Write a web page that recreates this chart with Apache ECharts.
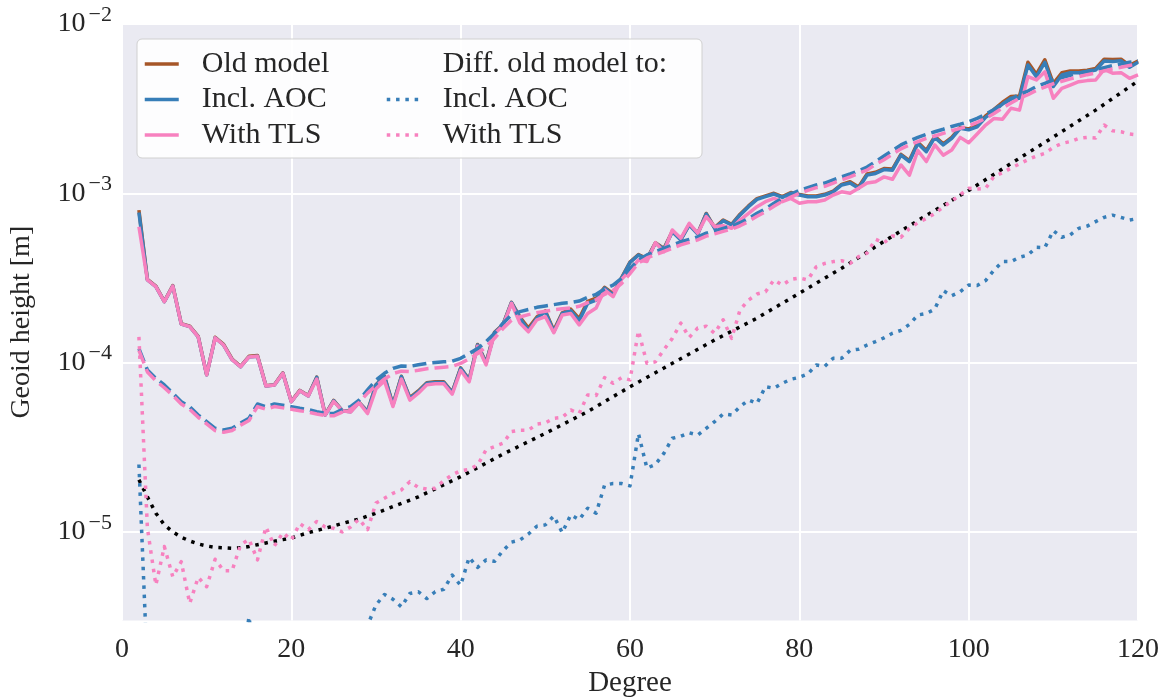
<!DOCTYPE html>
<html><head><meta charset="utf-8">
<script src="https://cdn.jsdelivr.net/npm/echarts@6/dist/echarts.min.js"></script>
<style>html,body{margin:0;padding:0;background:#fff}#c{width:1168px;height:700px}</style>
</head><body><div id="c"></div>
<script>
// Spherical-harmonic degrees 2..120
const degrees = Array.from({length: 119}, (_, i) => i + 2);

const oldModel = [7.95e-4, 3.1e-4, 2.83e-4, 2.3e-4, 2.85e-4, 1.7e-4, 1.64e-4, 1.43e-4, 8.5e-5, 1.41e-4,
 1.28e-4, 1.05e-4, 9.5e-5, 1.09e-4, 1.1e-4, 7.3e-5, 7.4e-5, 8.7e-5, 5.9e-5, 6.85e-5,
 6.4e-5, 8.2e-5, 4.92e-5, 5.98e-5, 5.22e-5, 5.15e-5, 5.82e-5, 5.15e-5, 7.4e-5, 8.3e-5,
 5.65e-5, 8.3e-5, 6.2e-5, 6.8e-5, 7.6e-5, 7.7e-5, 7.7e-5, 6.7e-5, 9.3e-5, 7.95e-5,
 1.28e-4, 1.0e-4, 1.51e-4, 1.68e-4, 2.27e-4, 1.86e-4, 1.6e-4, 1.86e-4, 2.02e-4, 1.55e-4,
 1.97e-4, 2.07e-4, 1.82e-4, 2.3e-4, 2.4e-4, 2.78e-4, 2.55e-4, 3.17e-4, 3.92e-4, 4.35e-4,
 4.12e-4, 5.1e-4, 4.72e-4, 5.96e-4, 5.35e-4, 6.55e-4, 5.8e-4, 7.6e-4, 6.27e-4, 6.95e-4,
 6.56e-4, 7.52e-4, 8.42e-4, 9.3e-4, 9.65e-4, 1.0e-3, 9.55e-4, 1.01e-3, 9.85e-4, 9.63e-4,
 9.64e-4, 9.86e-4, 1.03e-3, 1.13e-3, 1.17e-3, 1.09e-3, 1.3e-3, 1.33e-3, 1.4e-3, 1.39e-3,
 1.7e-3, 1.56e-3, 2.0e-3, 1.79e-3, 2.17e-3, 1.96e-3, 2.14e-3, 2.45e-3, 2.4e-3, 2.51e-3,
 2.87e-3, 3.13e-3, 3.45e-3, 3.73e-3, 3.75e-3, 5.95e-3, 5.05e-3, 6.15e-3, 4.45e-3, 5.15e-3,
 5.28e-3, 5.27e-3, 5.33e-3, 5.46e-3, 6.2e-3, 6.18e-3, 6.2e-3, 5.7e-3, 6.05e-3];

const inclAOC = [7.7e-4, 3.08e-4, 2.81e-4, 2.29e-4, 2.83e-4, 1.69e-4, 1.63e-4, 1.42e-4, 8.45e-5, 1.40e-4,
 1.27e-4, 1.04e-4, 9.45e-5, 1.08e-4, 1.09e-4, 7.28e-5, 7.38e-5, 8.65e-5, 5.87e-5, 6.82e-5,
 6.35e-5, 8.18e-5, 4.90e-5, 5.95e-5, 5.20e-5, 5.13e-5, 5.80e-5, 5.13e-5, 7.38e-5, 8.26e-5,
 5.62e-5, 8.26e-5, 6.15e-5, 6.73e-5, 7.55e-5, 7.64e-5, 7.64e-5, 6.64e-5, 9.25e-5, 7.89e-5,
 1.27e-4, 9.91e-5, 1.50e-4, 1.67e-4, 2.26e-4, 1.83e-4, 1.55e-4, 1.83e-4, 2.00e-4, 1.52e-4,
 1.95e-4, 2.03e-4, 1.77e-4, 2.24e-4, 2.34e-4, 2.75e-4, 2.51e-4, 3.15e-4, 3.9e-4, 4.32e-4,
 4.08e-4, 5.07e-4, 4.67e-4, 5.93e-4, 5.30e-4, 6.50e-4, 5.75e-4, 7.55e-4, 6.21e-4, 6.89e-4,
 6.50e-4, 7.45e-4, 8.34e-4, 9.21e-4, 9.55e-4, 9.90e-4, 9.46e-4, 1.00e-3, 9.77e-4, 9.55e-4,
 9.55e-4, 9.77e-4, 1.02e-3, 1.12e-3, 1.15e-3, 1.07e-3, 1.28e-3, 1.31e-3, 1.38e-3, 1.37e-3,
 1.68e-3, 1.54e-3, 1.97e-3, 1.76e-3, 2.14e-3, 1.93e-3, 2.11e-3, 2.42e-3, 2.37e-3, 2.47e-3,
 2.81e-3, 3.06e-3, 3.37e-3, 3.64e-3, 3.64e-3, 5.73e-3, 4.89e-3, 5.94e-3, 4.27e-3, 5.00e-3,
 5.16e-3, 5.16e-3, 5.22e-3, 5.35e-3, 6.04e-3, 6.00e-3, 6.06e-3, 5.55e-3, 5.94e-3];

const withTLS = [6.35e-4, 3.08e-4, 2.81e-4, 2.29e-4, 2.83e-4, 1.69e-4, 1.63e-4, 1.42e-4, 8.45e-5, 1.40e-4,
 1.27e-4, 1.04e-4, 9.45e-5, 1.08e-4, 1.09e-4, 7.28e-5, 7.38e-5, 8.65e-5, 5.87e-5, 6.82e-5,
 6.35e-5, 8.0e-5, 4.9e-5, 5.9e-5, 5.2e-5, 5.1e-5, 5.8e-5, 5.0e-5, 7.0e-5, 7.8e-5,
 5.5e-5, 8.0e-5, 6.0e-5, 6.6e-5, 7.4e-5, 7.5e-5, 7.5e-5, 6.5e-5, 9.0e-5, 7.7e-5,
 1.25e-4, 9.7e-5, 1.48e-4, 1.65e-4, 2.24e-4, 1.71e-4, 1.52e-4, 1.79e-4, 1.87e-4, 1.50e-4,
 1.91e-4, 1.95e-4, 1.67e-4, 1.95e-4, 2.10e-4, 2.69e-4, 2.45e-4, 3.1e-4, 3.5e-4, 4.04e-4,
 3.95e-4, 5.11e-4, 4.52e-4, 6.07e-4, 5.42e-4, 6.65e-4, 5.81e-4, 7.28e-4, 6.35e-4, 6.44e-4,
 6.21e-4, 6.95e-4, 7.62e-4, 8.34e-4, 8.92e-4, 9.33e-4, 8.92e-4, 9.33e-4, 8.73e-4, 8.92e-4,
 8.92e-4, 9.12e-4, 9.77e-4, 1.02e-3, 1.00e-3, 1.07e-3, 1.15e-3, 1.17e-3, 1.25e-3, 1.21e-3,
 1.47e-3, 1.28e-3, 1.79e-3, 1.54e-3, 1.93e-3, 1.68e-3, 1.80e-3, 2.14e-3, 1.99e-3, 2.24e-3,
 2.53e-3, 2.77e-3, 2.74e-3, 3.18e-3, 3.10e-3, 4.89e-3, 4.67e-3, 5.22e-3, 3.64e-3, 4.17e-3,
 4.36e-3, 4.56e-3, 4.63e-3, 4.67e-3, 5.39e-3, 5.12e-3, 5.16e-3, 4.78e-3, 5.00e-3];

const aocDashed = [1.21e-4, 9.04e-5, 8.07e-5, 7.38e-5, 6.59e-5, 5.87e-5, 5.49e-5, 4.90e-5, 4.48e-5, 4.09e-5,
 4.00e-5, 4.09e-5, 4.39e-5, 4.69e-5, 5.69e-5, 5.49e-5, 5.69e-5, 5.6e-5, 5.49e-5, 5.37e-5,
 5.27e-5, 5.13e-5, 5.01e-5, 5.0e-5, 5.27e-5, 5.49e-5, 6.01e-5, 6.89e-5, 7.88e-5, 8.65e-5,
 9.25e-5, 9.55e-5, 9.5e-5, 9.7e-5, 9.9e-5, 1.0e-4, 1.01e-4, 1.02e-4, 1.06e-4, 1.13e-4,
 1.21e-4, 1.33e-4, 1.49e-4, 1.71e-4, 1.91e-4, 2.00e-4, 2.06e-4, 2.12e-4, 2.16e-4, 2.20e-4,
 2.24e-4, 2.26e-4, 2.31e-4, 2.43e-4, 2.53e-4, 2.72e-4, 2.87e-4, 3.15e-4, 3.6e-4, 4.04e-4,
 4.32e-4, 4.52e-4, 4.72e-4, 4.94e-4, 5.17e-4, 5.34e-4, 5.53e-4, 5.81e-4, 6.0e-4, 6.21e-4,
 6.4e-4, 6.7e-4, 7.1e-4, 7.62e-4, 8.1e-4, 8.73e-4, 9.33e-4, 9.9e-4, 1.04e-3, 1.08e-3,
 1.12e-3, 1.15e-3, 1.2e-3, 1.25e-3, 1.30e-3, 1.36e-3, 1.43e-3, 1.54e-3, 1.66e-3, 1.79e-3,
 1.93e-3, 2.04e-3, 2.14e-3, 2.23e-3, 2.31e-3, 2.39e-3, 2.48e-3, 2.56e-3, 2.65e-3, 2.77e-3,
 2.93e-3, 3.13e-3, 3.37e-3, 3.60e-3, 3.84e-3, 4.02e-3, 4.27e-3, 4.46e-3, 4.67e-3, 4.82e-3,
 4.98e-3, 5.12e-3, 5.26e-3, 5.37e-3, 5.52e-3, 5.68e-3, 5.80e-3, 5.94e-3, 6.07e-3];

const tlsDashed = [1.18e-4, 8.8e-5, 7.8e-5, 7.1e-5, 6.4e-5, 5.7e-5, 5.3e-5, 4.75e-5, 4.35e-5, 3.97e-5,
 3.88e-5, 3.97e-5, 4.26e-5, 4.55e-5, 5.5e-5, 5.3e-5, 5.5e-5, 5.4e-5, 5.3e-5, 5.2e-5,
 5.1e-5, 4.97e-5, 4.86e-5, 4.85e-5, 5.1e-5, 5.3e-5, 5.8e-5, 6.6e-5, 7.3e-5, 8.0e-5,
 8.6e-5, 8.9e-5, 8.85e-5, 9.0e-5, 9.2e-5, 9.3e-5, 9.4e-5, 9.5e-5, 9.9e-5, 1.05e-4,
 1.13e-4, 1.24e-4, 1.39e-4, 1.59e-4, 1.78e-4, 1.86e-4, 1.92e-4, 1.97e-4, 2.01e-4, 2.05e-4,
 2.08e-4, 2.10e-4, 2.15e-4, 2.26e-4, 2.35e-4, 2.53e-4, 2.67e-4, 2.93e-4, 3.35e-4, 3.88e-4,
 4.15e-4, 4.34e-4, 4.53e-4, 4.74e-4, 4.96e-4, 5.13e-4, 5.31e-4, 5.58e-4, 5.76e-4, 5.96e-4,
 6.14e-4, 6.43e-4, 6.82e-4, 7.32e-4, 7.78e-4, 8.38e-4, 8.96e-4, 9.5e-4, 9.98e-4, 1.04e-3,
 1.08e-3, 1.10e-3, 1.15e-3, 1.20e-3, 1.25e-3, 1.31e-3, 1.37e-3, 1.48e-3, 1.58e-3, 1.70e-3,
 1.83e-3, 1.93e-3, 2.02e-3, 2.11e-3, 2.18e-3, 2.26e-3, 2.34e-3, 2.42e-3, 2.50e-3, 2.62e-3,
 2.77e-3, 2.96e-3, 3.19e-3, 3.41e-3, 3.64e-3, 3.82e-3, 4.06e-3, 4.24e-3, 4.44e-3, 4.59e-3,
 4.74e-3, 4.88e-3, 5.02e-3, 5.13e-3, 5.28e-3, 5.43e-3, 5.55e-3, 5.69e-3, 5.83e-3];

const diffAOC = [2.5e-5, 1.5e-6, 1.2e-6, 1.0e-6, 1.1e-6, 9e-7, 1.0e-6, 1.2e-6, 1.0e-6, 1.3e-6,
 1.1e-6, 1.2e-6, 1.4e-6, 3.15e-6, 1.3e-6, 1.2e-6, 1.5e-6, 1.3e-6, 1.6e-6, 1.4e-6,
 1.7e-6, 1.5e-6, 1.8e-6, 1.6e-6, 1.9e-6, 1.8e-6, 2.0e-6, 2.8e-6, 3.7e-6, 4.27e-6,
 4.0e-6, 3.61e-6, 4.33e-6, 4.43e-6, 4.04e-6, 4.43e-6, 4.58e-6, 5.56e-6, 4.83e-6, 7.07e-6,
 6.17e-6, 6.83e-6, 6.7e-6, 7.75e-6, 8.7e-6, 8.95e-6, 9.72e-6, 1.08e-5, 1.10e-5, 1.24e-5,
 9.9e-6, 1.26e-5, 1.18e-5, 1.38e-5, 1.29e-5, 1.89e-5, 1.93e-5, 1.93e-5, 1.87e-5, 3.8e-5,
 2.38e-5, 2.5e-5, 2.91e-5, 3.57e-5, 3.67e-5, 3.85e-5, 3.73e-5, 4.09e-5, 4.48e-5, 4.97e-5,
 4.9e-5, 5.49e-5, 6.01e-5, 5.74e-5, 7.21e-5, 7.05e-5, 7.55e-5, 7.97e-5, 8.18e-5, 8.57e-5,
 9.69e-5, 9.5e-5, 1.06e-4, 1.06e-4, 1.18e-4, 1.20e-4, 1.27e-4, 1.33e-4, 1.40e-4, 1.49e-4,
 1.55e-4, 1.68e-4, 1.91e-4, 1.95e-4, 2.07e-4, 2.66e-4, 2.48e-4, 2.62e-4, 2.87e-4, 2.85e-4,
 3.05e-4, 3.52e-4, 3.95e-4, 3.95e-4, 4.19e-4, 4.32e-4, 4.80e-4, 4.78e-4, 6.01e-4, 5.5e-4,
 5.68e-4, 6.21e-4, 6.4e-4, 6.8e-4, 7.21e-4, 7.43e-4, 7.2e-4, 6.95e-4, 7.1e-4];

const diffTLS = [1.42e-4, 1.05e-5, 4.85e-6, 8.19e-6, 5.43e-6, 6.67e-6, 3.78e-6, 5.39e-6, 4.74e-6, 6.89e-6,
 5.90e-6, 5.90e-6, 8.38e-6, 9.04e-6, 6.83e-6, 1.07e-5, 8.26e-6, 9.89e-6, 8.95e-6, 1.12e-5,
 1.03e-5, 1.15e-5, 1.07e-5, 1.05e-5, 1.00e-5, 1.07e-5, 1.19e-5, 1.03e-5, 1.48e-5, 1.58e-5,
 1.69e-5, 1.77e-5, 1.98e-5, 1.83e-5, 1.79e-5, 1.81e-5, 2.01e-5, 2.17e-5, 2.30e-5, 2.34e-5,
 2.48e-5, 3.05e-5, 3.19e-5, 3.34e-5, 3.91e-5, 3.99e-5, 3.99e-5, 4.33e-5, 4.4e-5, 4.69e-5,
 4.75e-5, 5.25e-5, 5.01e-5, 6.44e-5, 6.4e-5, 8.15e-5, 7.55e-5, 8.15e-5, 7.9e-5, 1.54e-4,
 9.9e-5, 1.01e-4, 1.19e-4, 1.39e-4, 1.71e-4, 1.41e-4, 1.60e-4, 1.64e-4, 1.49e-4, 1.79e-4,
 1.39e-4, 2.05e-4, 2.34e-4, 2.54e-4, 2.62e-4, 3.08e-4, 2.87e-4, 3.1e-4, 3.16e-4, 3.08e-4,
 3.68e-4, 3.85e-4, 3.95e-4, 4.0e-4, 3.85e-4, 4.22e-4, 4.43e-4, 5.35e-4, 5.1e-4, 5.6e-4,
 5.5e-4, 6.2e-4, 6.7e-4, 7.1e-4, 7.6e-4, 8.3e-4, 9.0e-4, 9.8e-4, 1.07e-3, 1.06e-3,
 1.07e-3, 1.26e-3, 1.32e-3, 1.41e-3, 1.49e-3, 1.58e-3, 1.66e-3, 1.72e-3, 1.87e-3, 1.97e-3,
 2.02e-3, 2.11e-3, 2.14e-3, 2.12e-3, 2.53e-3, 2.34e-3, 2.31e-3, 2.24e-3, 2.21e-3];

// reference (black dotted) curve, read at these degrees
const refDeg = [2,3,4,5,6,7,8,9,10,11,12,13,14,15,16,17,18,19,20,22,24,26,28,30,35,40,45,50,55,60,65,70,75,80,85,90,95,100,105,110,115,120];
const refVal = [2.03e-5,1.61e-5,1.29e-5,1.10e-5,1.00e-5,9.3e-6,8.84e-6,8.49e-6,8.26e-6,8.1e-6,8.05e-6,8.0e-6,8.05e-6,8.2e-6,8.4e-6,8.6e-6,8.8e-6,9.0e-6,9.2e-6,9.9e-6,1.05e-5,1.12e-5,1.19e-5,1.29e-5,1.61e-5,2.12e-5,2.88e-5,3.82e-5,5.13e-5,7.2e-5,9.9e-5,1.36e-4,1.83e-4,2.57e-4,3.61e-4,5.2e-4,7.4e-4,1.04e-3,1.5e-3,2.15e-3,3.1e-3,4.6e-3];

const xTicks = [0, 20, 40, 60, 80, 100, 120];
const yTickExponents = [-5, -4, -3, -2];
const legendLabels = {header: 'Diff. old model to:', diffAOC: 'Incl. AOC', diffTLS: 'With TLS'};

const FONT = 'Liberation Serif';
const TXT = '#262626';
const C_BROWN = '#A65628', C_BLUE = '#377EB8', C_PINK = '#F781BF';
const LW = 3.5;
const DOT = [3.5, 5.8];

const pairs = (xs, ys) => xs.map((x, i) => [x, ys[i]]);

function line(name, data, color, type) {
  return {
    name, type: 'line', data, symbol: 'none', showSymbol: false,
    lineStyle: {color, width: LW, type, cap: 'butt', join: 'round'},
    itemStyle: {color}, emphasis: {disabled: true}, clip: true, z: 2
  };
}

const legendCommon = {
  orient: 'vertical', top: 49, padding: 0, z: 5,
  itemWidth: 34, itemHeight: 14, itemGap: 5.5, selectedMode: false,
  itemStyle: {color: 'rgba(0,0,0,0)', borderColor: 'rgba(0,0,0,0)', borderWidth: 0, opacity: 0},
  lineStyle: {width: LW, opacity: 1}
};

const chart = echarts.init(document.getElementById('c'), null, {renderer: 'canvas'});
chart.setOption({
  animation: false,
  backgroundColor: '#ffffff',
  grid: {left: 122, right: 30, top: 24, bottom: 79.6, show: true, backgroundColor: '#EAEAF2', borderWidth: 0,
    containLabel: false, outerBoundsMode: 'none'},
  xAxis: {
    type: 'value', min: xTicks[0], max: xTicks[xTicks.length - 1], interval: 20,
    axisLine: {show: false}, axisTick: {show: false},
    splitLine: {show: true, lineStyle: {color: '#ffffff', width: 2}},
    axisLabel: {fontFamily: FONT, fontSize: 28, color: TXT, margin: 15,
      formatter: v => xTicks.includes(v) ? String(v) : ''},
    name: 'Degree', nameLocation: 'middle', nameGap: 48,
    nameTextStyle: {fontFamily: FONT, fontSize: 29, color: TXT}
  },
  yAxis: {
    type: 'log', logBase: 10, min: 3e-6, max: 1e-2,
    axisLine: {show: false}, axisTick: {show: false},
    splitLine: {show: true, showMinLine: false, lineStyle: {color: '#ffffff', width: 2}},
    axisLabel: {
      margin: 10, showMinLabel: false,
      formatter: v => {
        const e = Math.log10(v), r = Math.round(e);
        if (Math.abs(e - r) > 1e-6 || !yTickExponents.includes(r)) return '';
        return '{b|10}{s|\u2212' + (-r) + '}';
      },
      rich: {
        b: {fontFamily: FONT, fontSize: 28, color: TXT, lineHeight: 40, verticalAlign: 'middle'},
        s: {fontFamily: FONT, fontSize: 22, color: TXT, lineHeight: 20, verticalAlign: 'top', padding: [0, 0, 0, 3]}
      }
    },
    name: 'Geoid height [m]', nameLocation: 'middle', nameGap: 86,
    nameTextStyle: {fontFamily: FONT, fontSize: 28, color: TXT}
  },
  graphic: [{
    type: 'rect', z: 3, silent: true,
    shape: {x: 137, y: 39, width: 565, height: 119, r: 5},
    style: {fill: 'rgba(255,255,255,0.88)', stroke: '#d0d0d0', lineWidth: 1}
  }],
  legend: [Object.assign({}, legendCommon, {
    data: ['Old model', 'Incl. AOC', 'With TLS'],
    left: 143,
    formatter: n => '{sp|}' + n,
    textStyle: {fontFamily: FONT, fontSize: 30, color: TXT, lineHeight: 30, rich: {sp: {width: 18}}}
  }), Object.assign({}, legendCommon, {
    data: ['header', 'diffAOC', 'diffTLS'],
    left: 385,
    formatter: n => '{sp|}' + (legendLabels[n] || n),
    textStyle: {fontFamily: FONT, fontSize: 30, color: TXT, lineHeight: 30, rich: {sp: {width: 17}}}
  })],
  series: [
    line('Old model', pairs(degrees, oldModel), C_BROWN, 'solid'),
    line('Incl. AOC', pairs(degrees, inclAOC), C_BLUE, 'solid'),
    line('With TLS', pairs(degrees, withTLS), C_PINK, 'solid'),
    line('aocDashed', pairs(degrees, aocDashed), C_BLUE, [14, 6]),
    line('tlsDashed', pairs(degrees, tlsDashed), C_PINK, [14, 6]),
    line('header', [], 'rgba(0,0,0,0)', 'solid'),
    line('refCurve', pairs(refDeg, refVal), '#000000', DOT),
    line('diffAOC', pairs(degrees, diffAOC), C_BLUE, DOT),
    line('diffTLS', pairs(degrees, diffTLS), C_PINK, DOT)
  ]
});
</script>
</body></html>
